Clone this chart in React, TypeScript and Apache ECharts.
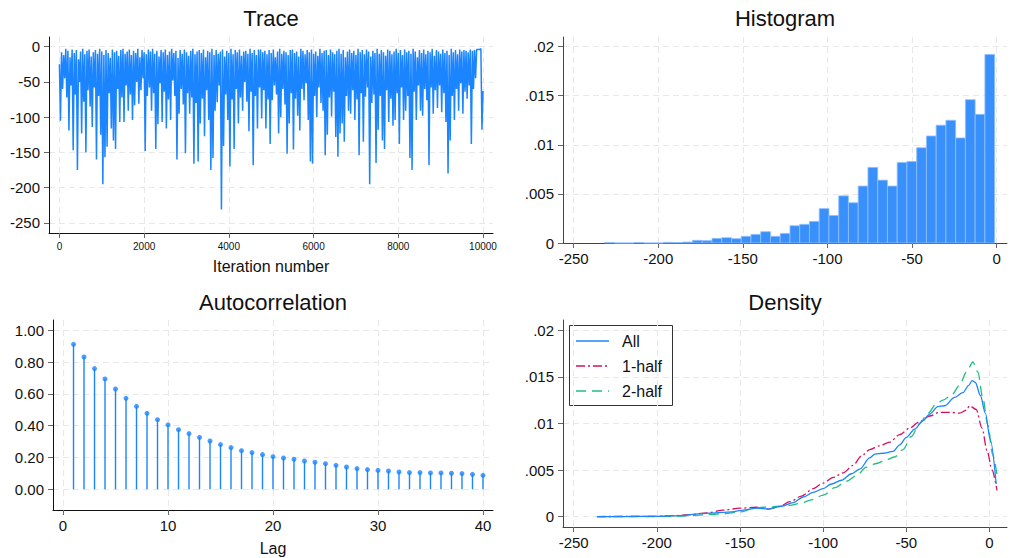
import React, { useEffect, useRef } from "react";
import * as echarts from "echarts";

const FONT = '"Liberation Sans", Arial, Helvetica, sans-serif';

// ---------- Trace ----------
const traceStep = 50; // highs at 0,50,...; lows at 25,75,...
const traceHigh = [
  -25, -8, -12, -3, -6, -15, -4, -9, -5, -18,
  -7, -3, -11, -6, -4, -14, -8, -5, -10, -3,
  -7, -12, -5, -9, -16, -4, -8, -6, -13, -5,
  -3, -10, -7, -4, -12, -6, -9, -3, -15, -5,
  -8, -11, -4, -7, -3, -10, -6, -14, -5, -8,
  -4, -12, -7, -3, -9, -6, -16, -5, -10, -4,
  -8, -13, -6, -3, -11, -7, -5, -9, -4, -15,
  -6, -8, -3, -12, -5, -10, -7, -4, -14, -6,
  -9, -3, -11, -5, -8, -4, -13, -7, -6, -10,
  -3, -9, -5, -12, -4, -4, -8, -6, -11, -5,
  -9, -4, -15, -7, -3, -10, -6, -8, -12, -5,
  -4, -9, -7, -14, -3, -6, -11, -5, -8, -4,
  -10, -7, -13, -3, -9, -6, -5, -12, -4, -8,
  -11, -6, -3, -10, -5, -15, -7, -4, -9, -6,
  -12, -3, -8, -5, -11, -4, -7, -14, -6, -9,
  -3, -10, -5, -8, -13, -4, -6, -11, -7, -3,
  -9, -5, -12, -4, -8, -6, -10, -3, -7, -15,
  -5, -9, -4, -11, -6, -8, -3, -13, -5, -7,
  -10, -4, -9, -6, -12, -3, -8, -5, -11, -4,
  -7, -5, -6, -8, -4, -6, -5, -4, -4, -3,
  -63,
];
const traceLow = [
  -105, -60, -45, -72, -119, -55, -147, -68, -175, -50,
  -123, -78, -150, -62, -85, -114, -58, -160, -70, -125,
  -195, -157, -142, -66, -116, -133, -145, -60, -107, -72,
  -107, -55, -91, -68, -104, -83, -50, -81, -62, -45,
  -148, -70, -58, -91, -66, -145, -110, -52, -107, -64,
  -116, -75, -104, -48, -70, -160, -95, -60, -82, -151,
  -66, -95, -72, -166, -80, -163, -109, -74, -127, -62,
  -104, -175, -158, -91, -79, -55, -231, -141, -68, -104,
  -170, -75, -145, -60, -109, -72, -91, -50, -78, -120,
  -64, -168, -70, -116, -58, -102, -62, -116, -75, -138,
  -76, -55, -68, -123, -100, -60, -82, -152, -109, -66,
  -146, -74, -98, -119, -60, -76, -52, -104, -163, -166,
  -70, -100, -58, -80, -91, -154, -125, -72, -99, -64,
  -128, -156, -123, -109, -135, -70, -91, -95, -62, -104,
  -75, -154, -66, -135, -71, -58, -195, -80, -68, -165,
  -118, -70, -133, -145, -62, -107, -74, -112, -104, -66,
  -138, -58, -104, -91, -70, -158, -175, -64, -104, -55,
  -91, -98, -60, -76, -168, -58, -95, -62, -87, -55,
  -93, -66, -107, -180, -133, -70, -104, -60, -91, -52,
  -95, -64, -74, -55, -138, -60, -45, -4, -4, -118,
];
const traceXTicks = [0, 2000, 4000, 6000, 8000, 10000];
const traceYTicks = [-250, -200, -150, -100, -50, 0];

// ---------- Histogram ----------
const histStart = -231.6;
const histBinWidth = 5.76;
const histDensity = [
  0.00005, 0, 0, 0.00005, 0, 0, 0.00007, 0.00005, 0.0001, 0.00027,
  0.00024, 0.00047, 0.00054, 0.00044, 0.00068, 0.00088, 0.00115, 0.00068, 0.00098, 0.00176,
  0.0019, 0.0022, 0.0035, 0.0028, 0.0048, 0.0041, 0.0058, 0.0077, 0.0064, 0.0058,
  0.0082, 0.0083, 0.0097, 0.0109, 0.012, 0.0125, 0.0107, 0.0146, 0.0131, 0.0192,
];
const valueXTicks = [-250, -200, -150, -100, -50, 0];
const densYTicks = [0, 0.005, 0.01, 0.015, 0.02];

// ---------- Autocorrelation ----------
const acfLags = [
  1, 2, 3, 4, 5, 6, 7, 8, 9, 10, 11, 12, 13, 14, 15, 16, 17, 18, 19, 20,
  21, 22, 23, 24, 25, 26, 27, 28, 29, 30, 31, 32, 33, 34, 35, 36, 37, 38, 39, 40,
];
const acfValues = [
  0.912, 0.832, 0.759, 0.694, 0.631, 0.572, 0.522, 0.478, 0.438, 0.405,
  0.375, 0.35, 0.327, 0.304, 0.281, 0.262, 0.243, 0.231, 0.218, 0.205,
  0.197, 0.189, 0.178, 0.17, 0.161, 0.151, 0.14, 0.13, 0.124, 0.119,
  0.115, 0.109, 0.105, 0.105, 0.103, 0.103, 0.101, 0.099, 0.094, 0.088,
];
const acfXTicks = [0, 10, 20, 30, 40];
const acfYTicks = [0, 0.2, 0.4, 0.6, 0.8, 1.0];

// ---------- Density ----------
const densityAll = [
  [-236, 0], [-220, 0], [-200, 0.00003], [-185, 0.0001], [-175, 0.0003], [-165, 0.0004],
  [-155, 0.0005], [-148, 0.0007], [-140, 0.0009], [-133, 0.0008], [-125, 0.0011],
  [-118, 0.0015], [-112, 0.0021], [-106, 0.0026], [-100, 0.003], [-95, 0.0035],
  [-89, 0.0039], [-83, 0.0046], [-78, 0.0051], [-72, 0.0063], [-69, 0.0067],
  [-64, 0.0068], [-58, 0.007], [-54, 0.0077], [-50, 0.0085], [-45, 0.0094], [-40, 0.0103],
  [-36, 0.011], [-31, 0.0118], [-27, 0.0119], [-21, 0.0128], [-16, 0.0133],
  [-12.5, 0.0141], [-10.5, 0.0146], [-8.5, 0.0144], [-5.5, 0.013], [-2.5, 0.0111],
  [0.5, 0.0082], [4, 0.0035],
];
const densityHalf1 = [
  [-236, 0], [-200, 0.00003], [-190, 0.0001], [-180, 0.0002], [-170, 0.0004],
  [-160, 0.0007], [-150, 0.0009], [-140, 0.001], [-133, 0.0008], [-126, 0.0011],
  [-120, 0.0016], [-113, 0.0022], [-106, 0.003], [-100, 0.0036], [-94, 0.0042],
  [-88, 0.0047], [-82, 0.0055], [-77, 0.0065], [-72, 0.0072], [-66, 0.0076],
  [-60, 0.008], [-54, 0.0088], [-48, 0.0095], [-42, 0.0102], [-36, 0.0108],
  [-30, 0.0112], [-24, 0.0112], [-18, 0.0111], [-14, 0.0114], [-12, 0.0119],
  [-8, 0.0115], [-4.5, 0.0095], [-1.5, 0.0071], [1.5, 0.005], [4.5, 0.0028],
];
const densityHalf2 = [
  [-236, 0], [-200, 0.00001], [-185, 0.00005], [-170, 0.0002], [-160, 0.0003],
  [-150, 0.0005], [-143, 0.0008], [-136, 0.001], [-128, 0.0011], [-120, 0.0012],
  [-114, 0.0014], [-107, 0.0018], [-100, 0.0023], [-93, 0.0031], [-86, 0.0038],
  [-80, 0.0044], [-74, 0.0053], [-68, 0.0057], [-62, 0.0061], [-57, 0.0064],
  [-52, 0.0072], [-47, 0.0086], [-42, 0.01], [-37, 0.0111], [-32, 0.0121],
  [-28, 0.0125], [-23, 0.013], [-18, 0.0141], [-14, 0.0155], [-10, 0.0166],
  [-7, 0.0155], [-4, 0.0127], [-1, 0.0098], [2, 0.0066], [4.5, 0.0045],
];
const legendLabels = ["All", "1-half", "2-half"];

const BLUE = "#1a85ff";
const RED = "#d5115b";
const GREEN = "#1fbf80";

function buildOption() {
  const traceData: number[][] = [];
  for (let i = 0; i < traceHigh.length; i++) {
    traceData.push([i * traceStep, traceHigh[i]]);
    if (i < traceLow.length) traceData.push([i * traceStep + traceStep / 2, traceLow[i]]);
  }
  const histData = histDensity.map((d, i) => [
    histStart + i * histBinWidth,
    histStart + (i + 1) * histBinWidth,
    d,
  ]);
  const acfData = acfLags.map((l, i) => [l, acfValues[i]]);

  const gridLine = { show: true, lineStyle: { color: "#e8e8e8", type: [6, 4], width: 1 } };

  const axis = (
    gridIndex: number,
    min: number,
    max: number,
    ticks: number[],
    fmt: (v: number) => string,
    color: string,
    fontSize: number,
    margin: number
  ) => ({
    type: "value",
    gridIndex,
    min,
    max,
    scale: true,
    axisLine: { show: true, onZero: false, lineStyle: { color, width: 1 } },
    axisTick: { show: true, length: 5, inside: false, customValues: ticks, lineStyle: { color: "#666", width: 1 } },
    axisLabel: { show: true, customValues: ticks, formatter: fmt, fontSize, color: "#111", margin, fontFamily: FONT },
    splitLine: gridLine,
  });

  const intFmt = (v: number) => String(Math.round(v));
  const densFmt = (v: number) => (v === 0 ? "0" : String(+v.toFixed(3)).replace(/^0\./, "."));
  const acfFmt = (v: number) => v.toFixed(2);

  const textEl = (text: string, x: number, y: number, size: number) => ({
    type: "text",
    x,
    y,
    z: 20,
    style: {
      text,
      align: "center",
      verticalAlign: "middle",
      fontSize: size,
      fontFamily: FONT,
      fill: "#111",
    },
  });

  const legendStyles = [
    { color: BLUE, dash: "solid" as any },
    { color: RED, dash: [9, 3, 2, 3] },
    { color: GREEN, dash: [10, 6] },
  ];
  const legendChildren: any[] = [
    {
      type: "rect",
      shape: { x: 569.5, y: 325.5, width: 103, height: 80 },
      style: { fill: "#fff", stroke: "#333", lineWidth: 1 },
    },
  ];
  legendLabels.forEach((lab, i) => {
    const y = 341 + i * 25;
    legendChildren.push({
      type: "line",
      shape: { x1: 576, y1: y, x2: 609, y2: y },
      style: {
        stroke: legendStyles[i].color,
        lineWidth: 1.4,
        lineDash: Array.isArray(legendStyles[i].dash) ? legendStyles[i].dash : null,
      },
    });
    legendChildren.push({
      type: "text",
      x: 622,
      y,
      style: { text: lab, align: "left", verticalAlign: "middle", fontSize: 16, fontFamily: FONT, fill: "#111" },
    });
  });

  return {
    animation: false,
    backgroundColor: "#fff",
    textStyle: { fontFamily: FONT },
    grid: [
      { left: 49, top: 37, width: 444, height: 196, outerBoundsMode: "none" },
      { left: 563, top: 37, width: 444, height: 206, outerBoundsMode: "none" },
      { left: 53, top: 320, width: 440, height: 190, outerBoundsMode: "none" },
      { left: 563, top: 320, width: 444, height: 207, outerBoundsMode: "none" },
    ],
    xAxis: [
      axis(0, -246, 10236, traceXTicks, intFmt, "#111", 10, 8),
      axis(1, -256.3, 6.1, valueXTicks, intFmt, "#444", 15, 8),
      axis(2, -0.954, 40.954, acfXTicks, intFmt, "#111", 15, 8),
      axis(3, -256.4, 10.5, valueXTicks, intFmt, "#444", 15, 8),
    ],
    yAxis: [
      axis(0, -264.2, 13.6, traceYTicks, intFmt, "#111", 15, 9),
      axis(1, 0, 0.02098, densYTicks, densFmt, "#444", 15, 9),
      axis(2, -0.1302, 1.0648, acfYTicks, acfFmt, "#111", 15, 9),
      axis(3, -0.00112, 0.02111, densYTicks, densFmt, "#444", 15, 9),
    ],
    graphic: [
      textEl("Trace", 271, 18, 22),
      textEl("Histogram", 785, 18, 22),
      textEl("Autocorrelation", 273, 302, 22),
      textEl("Density", 785, 302, 22),
      textEl("Iteration number", 271, 266, 16),
      textEl("Lag", 273, 548, 16),
      { type: "group", z: 30, children: legendChildren },
    ],
    series: [
      {
        type: "line",
        xAxisIndex: 0,
        yAxisIndex: 0,
        data: traceData,
        showSymbol: false,
        symbol: "none",
        lineStyle: { color: BLUE, width: 1.5 },
      },
      {
        type: "custom",
        xAxisIndex: 1,
        yAxisIndex: 1,
        data: histData,
        encode: { x: [0, 1], y: 2 },
        renderItem: (_p: any, api: any) => {
          const a = api.coord([api.value(0), api.value(2)]);
          const b = api.coord([api.value(1), 0]);
          return {
            type: "rect",
            shape: { x: a[0], y: a[1], width: b[0] - a[0], height: b[1] - a[1] },
            style: { fill: "#3a90fb", stroke: "#8ec0ff", lineWidth: 0.8 },
          };
        },
      },
      {
        type: "custom",
        xAxisIndex: 2,
        yAxisIndex: 2,
        data: acfData,
        encode: { x: 0, y: 1 },
        renderItem: (_p: any, api: any) => {
          const a = api.coord([api.value(0), 0]);
          const b = api.coord([api.value(0), api.value(1)]);
          return {
            type: "line",
            shape: { x1: a[0], y1: a[1], x2: b[0], y2: b[1] },
            style: { stroke: BLUE, lineWidth: 1.4 },
          };
        },
      },
      {
        type: "scatter",
        xAxisIndex: 2,
        yAxisIndex: 2,
        data: acfData,
        symbolSize: 5,
        itemStyle: { color: BLUE },
      },
      {
        type: "line",
        name: legendLabels[0],
        xAxisIndex: 3,
        yAxisIndex: 3,
        data: densityAll,
        showSymbol: false,
        symbol: "none",
        smooth: 0.3,
        smoothMonotone: "x",
        lineStyle: { color: BLUE, width: 1.3 },
        z: 4,
      },
      {
        type: "line",
        name: legendLabels[1],
        xAxisIndex: 3,
        yAxisIndex: 3,
        data: densityHalf1,
        showSymbol: false,
        symbol: "none",
        smooth: 0.3,
        smoothMonotone: "x",
        lineStyle: { color: RED, width: 1.3, type: [9, 3, 2, 3] },
        z: 3,
      },
      {
        type: "line",
        name: legendLabels[2],
        xAxisIndex: 3,
        yAxisIndex: 3,
        data: densityHalf2,
        showSymbol: false,
        symbol: "none",
        smooth: 0.3,
        smoothMonotone: "x",
        lineStyle: { color: GREEN, width: 1.3, type: [10, 6] },
        z: 3,
      },
    ],
  };
}

export default function App() {
  const ref = useRef<HTMLDivElement>(null);
  useEffect(() => {
    if (!ref.current) return;
    const chart = echarts.init(ref.current, undefined, { renderer: "svg" });
    chart.setOption(buildOption() as any);
    return () => chart.dispose();
  }, []);
  return (
    <div
      ref={ref}
      style={{ position: "absolute", left: 0, top: 0, width: 1013, height: 558, background: "#fff" }}
    />
  );
}
